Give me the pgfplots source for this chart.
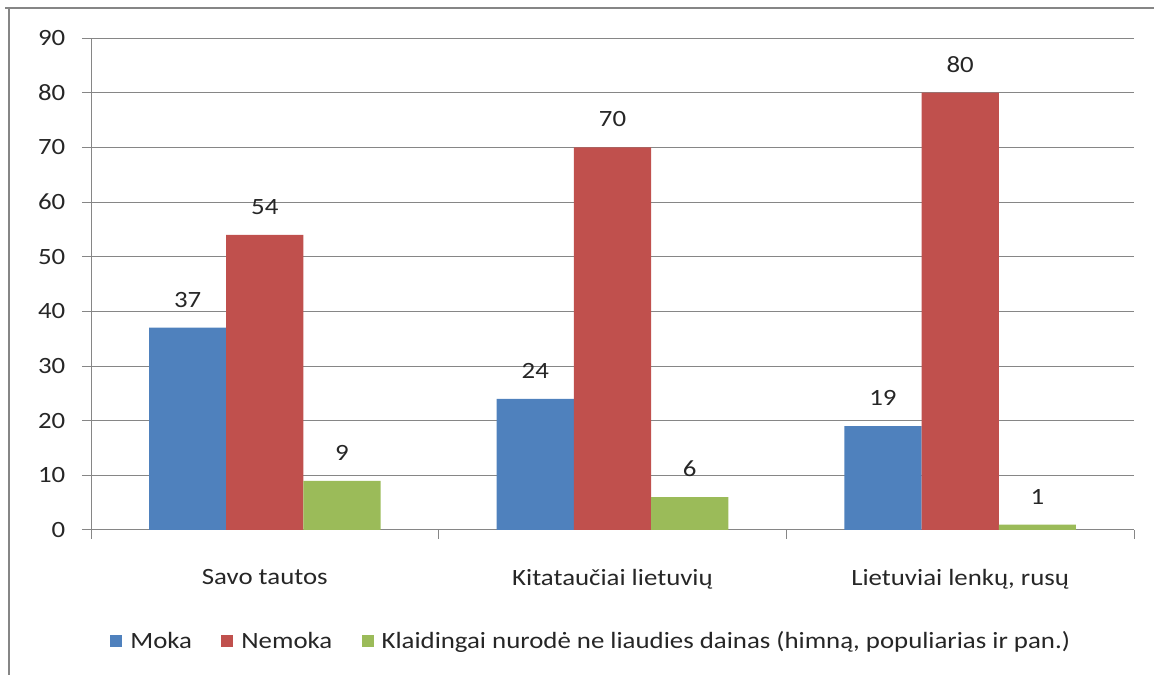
\documentclass[border=0pt]{standalone}
\usepackage{fontspec}
\setmainfont{Carlito}[FakeStretch=1.15]
\usepackage{pgfplots}
\pgfplotsset{compat=1.18}
\definecolor{moka}{HTML}{4F81BD}
\definecolor{nemoka}{HTML}{C0504D}
\definecolor{klaid}{HTML}{9BBB59}
\definecolor{gridc}{HTML}{868686}
\newcommand{\chfont}{\fontsize{17.5}{20}\selectfont}

\begin{document}
\begin{tikzpicture}[x=1pt,y=1pt]
\useasboundingbox (0,0) rectangle (865.5,506.25);
% frame of the chart area (only top and left edges are visible)
\draw[gridc, line width=1.6pt] (3.75,500.25) -- (865.5,500.25);
\draw[gridc, line width=1.6pt] (6.75,500.25) -- (6.75,0);
\begin{axis}[
  at={(68.25pt,108.75pt)}, anchor=south west,
  scale only axis, width=782.25pt, height=369pt,
  xmin=-0.5, xmax=2.5, ymin=0, ymax=90,
  ybar=0pt, bar width=0.222,
  axis lines*=left,
  axis line style={gridc, line width=0.75pt},
  ymajorgrids, grid style={gridc, line width=0.75pt},
  ytick={0,10,...,90},
  xtick={0,1,2},
  xticklabels={Savo tautos, Kitataučiai lietuvių, {Lietuviai lenkų, rusų}},
  minor xtick={-0.5,0.5,1.5,2.5},
  tick align=outside, major tick length=6.75pt, minor tick length=6.75pt,
  major x tick style={draw=none},
  minor x tick style={gridc, line width=0.75pt},
  major y tick style={gridc, line width=0.75pt},
  tick label style={font=\chfont, text=black!85},
  /pgf/number format/assume math mode=true,
  xticklabel style={yshift=-19pt},
  yticklabel style={xshift=-9pt},
  nodes near coords,
  every node near coord/.append style={font=\chfont, text=black!85, inner sep=0pt, yshift=15pt},
  legend style={at={(0.48,-0.2256)}, anchor=center, draw=none, font=\chfont,
    legend columns=-1, text=black!85,
    /tikz/every odd column/.append style={column sep=4pt},
    /tikz/every even column/.append style={column sep=20pt}},
  legend image code/.code={\fill[#1] (0pt,-4.5pt) rectangle (9pt,4.5pt);},
]
\addplot[fill=moka, draw=none] coordinates {(0,37) (1,24) (2,19)};
\addplot[fill=nemoka, draw=none] coordinates {(0,54) (1,70) (2,80)};
\addplot[fill=klaid, draw=none] coordinates {(0,9) (1,6) (2,1)};
\legend{Moka, Nemoka, {Klaidingai nurodė ne liaudies dainas (himną, populiarias ir pan.)}}
\end{axis}
\end{tikzpicture}
\end{document}
